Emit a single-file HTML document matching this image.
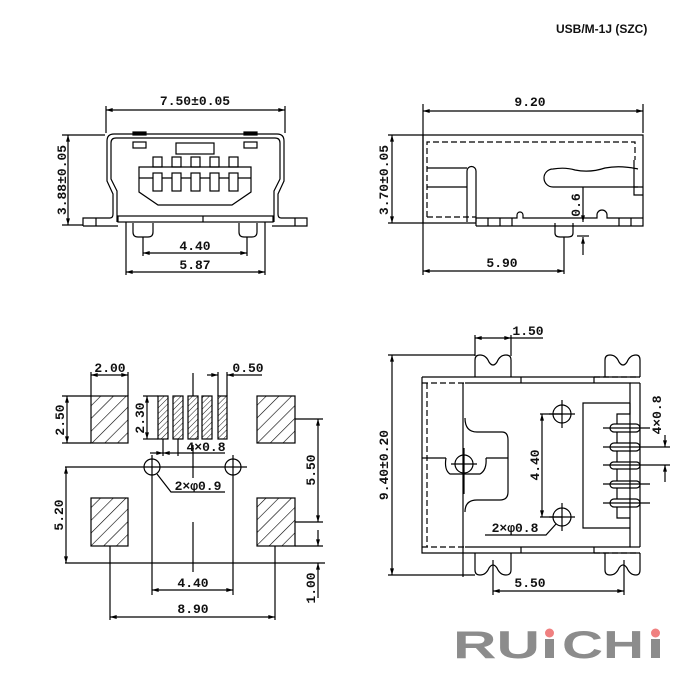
<!DOCTYPE html>
<html><head><meta charset="utf-8"><style>
html,body{margin:0;padding:0;background:#fff;}
svg{display:block}
.d{font-family:"Liberation Mono",monospace;font-weight:bold;font-size:13px;fill:#111}
</style></head><body>
<svg width="700" height="700" viewBox="0 0 700 700" xmlns="http://www.w3.org/2000/svg">
<defs>
<marker id="a" viewBox="0 0 10 6" refX="10" refY="3" markerWidth="8" markerHeight="4" orient="auto-start-reverse" markerUnits="userSpaceOnUse"><path d="M0,0 L10,3 L0,6z" fill="#000"/></marker>
<pattern id="h" width="9" height="9" patternUnits="userSpaceOnUse" patternTransform="rotate(45)"><line x1="0" y1="0" x2="0" y2="9" stroke="#000" stroke-width="1.2"/></pattern>
<pattern id="h2" width="4" height="4" patternUnits="userSpaceOnUse" patternTransform="rotate(45)"><line x1="0" y1="0" x2="0" y2="4" stroke="#000" stroke-width="0.9"/></pattern>
</defs>
<text x="556" y="33" font-family="Liberation Sans,sans-serif" font-size="12" font-weight="bold" fill="#111">USB/M-1J (SZC)</text>

<g fill="none" stroke="#000" stroke-width="1.2">
<!-- ===== Top-left view ===== -->
<line x1="106" y1="106" x2="106" y2="133"/><line x1="285" y1="106" x2="285" y2="133"/>
<line x1="106" y1="110" x2="285" y2="110" marker-start="url(#a)" marker-end="url(#a)"/>
<line x1="62" y1="135" x2="105" y2="135"/><line x1="62" y1="225" x2="83" y2="225"/>
<line x1="68" y1="135" x2="68" y2="225" marker-start="url(#a)" marker-end="url(#a)"/>
<path d="M83,226 V218 H110 Q113,218 113,214 V194 L107,181 V141 Q107,134 114,134 H277 Q284,134 284,141 V181 L278,194 V214 Q278,218 281,218 H307 V226 H278 M83,226 H118 M272,226 H307" />
<line x1="96" y1="218" x2="96" y2="226"/><line x1="295" y1="218" x2="295" y2="226"/>
<path d="M117,222 V191 L111,179 V143 Q111,138 116,138 H275 Q280,138 280,143 V179 L274,191 V222"/>
<rect x="118" y="216" width="155" height="6"/><line x1="203" y1="216" x2="203" y2="222"/>
<rect x="133" y="142" width="13" height="6"/><rect x="244" y="142" width="13" height="6"/>
<rect x="133" y="132" width="13" height="3" fill="#000"/><rect x="244" y="132" width="13" height="3" fill="#000"/>
<rect x="176" y="143" width="38" height="11"/>
<path d="M139,167 H251 V192 L232,205 H158 L139,192 Z"/><line x1="139" y1="178" x2="251" y2="178"/>
<g>
<rect x="153" y="157" width="9" height="10"/><rect x="172" y="157" width="9" height="10"/><rect x="191" y="157" width="9" height="10"/><rect x="210" y="157" width="9" height="10"/><rect x="229" y="157" width="9" height="10"/>
<rect x="153" y="173" width="9" height="18" fill="#fff"/><rect x="172" y="173" width="9" height="18" fill="#fff"/><rect x="191" y="173" width="9" height="18" fill="#fff"/><rect x="210" y="173" width="9" height="18" fill="#fff"/><rect x="229" y="173" width="9" height="18" fill="#fff"/>
</g>
<path d="M133,223 V232 Q133,237 138,237 H148 Q153,237 153,232 V223"/>
<path d="M239,223 V232 Q239,237 244,237 H252 Q257,237 257,232 V223"/>
<line x1="143" y1="237" x2="143" y2="256"/><line x1="247" y1="237" x2="247" y2="256"/>
<line x1="143" y1="253" x2="247" y2="253" marker-start="url(#a)" marker-end="url(#a)"/>
<line x1="126" y1="222" x2="126" y2="275"/><line x1="265" y1="222" x2="265" y2="275"/>
<line x1="126" y1="272" x2="265" y2="272" marker-start="url(#a)" marker-end="url(#a)"/>

<!-- ===== Top-right view ===== -->
<line x1="423" y1="104" x2="423" y2="275"/><line x1="643" y1="104" x2="643" y2="133"/>
<line x1="423" y1="111" x2="643" y2="111" marker-start="url(#a)" marker-end="url(#a)"/>
<line x1="388" y1="135" x2="423" y2="135"/><line x1="388" y1="223" x2="423" y2="223"/>
<line x1="392" y1="135" x2="392" y2="223" marker-start="url(#a)" marker-end="url(#a)"/>
<path d="M423,135 H643 V218 M423,135 V223 H476 M476,226 H643 V218"/>
<path d="M476,218 H517 V215 A3,3 0 0 1 523,215 V218 H597 V215 A5,5 0 0 1 607,215 V218 H643"/>
<line x1="476" y1="218" x2="476" y2="226"/><line x1="488" y1="218" x2="488" y2="226"/><line x1="500" y1="218" x2="500" y2="226"/><line x1="512" y1="218" x2="512" y2="226"/>
<line x1="619" y1="218" x2="619" y2="226"/><line x1="631" y1="218" x2="631" y2="226"/>
<path d="M427,217 V142 H635 V160" stroke-dasharray="6,3"/><path d="M427,217 H476" stroke-dasharray="6,3"/>
<path d="M634,160 V195 H643 M634,187 H643"/>
<path d="M427,168 H467 M427,187 H467 M467,222 V171 A4.5,4.5 0 0 1 476,171 V222"/>
<path d="M638,187 H553 A9,9 0 0 1 553,169 Q565,167 575,170 Q590,173 605,168 Q620,165 638,169"/>
<path d="M555,223 V233 Q555,237 560,237 H568 Q573,237 573,233 V223"/>
<line x1="583" y1="187" x2="583" y2="222" marker-end="url(#a)"/>
<line x1="583" y1="255" x2="583" y2="237" marker-end="url(#a)"/>
<line x1="577" y1="236" x2="589" y2="236"/>
<line x1="564" y1="237" x2="564" y2="274"/>
<line x1="423" y1="271" x2="564" y2="271" marker-start="url(#a)" marker-end="url(#a)"/>

<!-- ===== Bottom-left view ===== -->
<rect x="91" y="396" width="37" height="47" fill="url(#h)"/>
<rect x="257" y="396" width="38" height="47" fill="url(#h)"/>
<rect x="91" y="498" width="37" height="48" fill="url(#h)"/>
<rect x="257" y="498" width="38" height="48" fill="url(#h)"/>
<rect x="158" y="396" width="10" height="43" fill="url(#h2)"/>
<rect x="173" y="396" width="10" height="43" fill="url(#h2)"/>
<rect x="188" y="396" width="10" height="43" fill="url(#h2)"/>
<rect x="202" y="396" width="10" height="43" fill="url(#h2)"/>
<rect x="218" y="396" width="9" height="43" fill="url(#h2)"/>
<line x1="91" y1="372" x2="91" y2="396"/><line x1="128" y1="372" x2="128" y2="396"/>
<line x1="91" y1="375" x2="128" y2="375" marker-start="url(#a)" marker-end="url(#a)"/>
<line x1="62" y1="396" x2="91" y2="396"/><line x1="62" y1="443" x2="91" y2="443"/>
<line x1="67" y1="396" x2="67" y2="443" marker-start="url(#a)" marker-end="url(#a)"/>
<line x1="143" y1="396" x2="158" y2="396"/><line x1="143" y1="439" x2="158" y2="439"/>
<line x1="147" y1="396" x2="147" y2="439" marker-start="url(#a)" marker-end="url(#a)"/>
<line x1="218" y1="372" x2="218" y2="396"/><line x1="227" y1="372" x2="227" y2="396"/>
<line x1="207" y1="375" x2="218" y2="375" marker-end="url(#a)"/>
<line x1="262" y1="375" x2="227" y2="375" marker-end="url(#a)"/>
<line x1="193" y1="373" x2="193" y2="396"/><line x1="193" y1="445" x2="193" y2="478"/><line x1="193" y1="522" x2="193" y2="572"/>
<line x1="163" y1="439" x2="163" y2="456"/><line x1="178" y1="439" x2="178" y2="456"/>
<line x1="150" y1="453" x2="163" y2="453" marker-end="url(#a)"/>
<line x1="225" y1="453" x2="178" y2="453"/>
<line x1="163" y1="453" x2="178" y2="453" marker-start="url(#a)"/>
<circle cx="152" cy="467" r="8"/><circle cx="233" cy="467" r="8"/>
<line x1="65" y1="467" x2="247" y2="467"/>
<line x1="152" y1="455" x2="152" y2="595"/><line x1="233" y1="455" x2="233" y2="595"/>
<path d="M157,474 L171,492 H225"/>
<line x1="65" y1="563" x2="325" y2="563"/>
<line x1="66" y1="467" x2="66" y2="563" marker-start="url(#a)" marker-end="url(#a)"/>
<line x1="152" y1="590" x2="233" y2="590" marker-start="url(#a)" marker-end="url(#a)"/>
<line x1="110" y1="546" x2="110" y2="620"/><line x1="275" y1="546" x2="275" y2="620"/>
<line x1="110" y1="617" x2="275" y2="617" marker-start="url(#a)" marker-end="url(#a)"/>
<line x1="295" y1="419" x2="323" y2="419"/><line x1="295" y1="522" x2="323" y2="522"/>
<line x1="318" y1="419" x2="318" y2="522" marker-start="url(#a)" marker-end="url(#a)"/>
<line x1="295" y1="546" x2="323" y2="546"/>
<line x1="318" y1="530" x2="318" y2="546" marker-end="url(#a)"/>
<line x1="318" y1="598" x2="318" y2="563" marker-end="url(#a)"/>

<!-- ===== Bottom-right view ===== -->
<line x1="475" y1="335" x2="475" y2="356"/><line x1="511" y1="335" x2="511" y2="356"/>
<line x1="475" y1="338" x2="511" y2="338" marker-start="url(#a)" marker-end="url(#a)"/>
<line x1="511" y1="338" x2="543" y2="338"/>
<line x1="388" y1="355" x2="475" y2="355"/><line x1="388" y1="575" x2="475" y2="575"/>
<line x1="392" y1="355" x2="392" y2="575" marker-start="url(#a)" marker-end="url(#a)"/>
<path d="M422,377 H640 M422,377 V553 H640 M465,383 H630 V547 H465"/>
<line x1="630" y1="383" x2="640" y2="383"/><line x1="630" y1="547" x2="640" y2="547"/>
<line x1="640" y1="383" x2="640" y2="547"/>
<line x1="521" y1="377" x2="521" y2="383"/><line x1="594" y1="377" x2="594" y2="383"/>
<line x1="521" y1="547" x2="521" y2="553"/><line x1="594" y1="547" x2="594" y2="553"/>
<path d="M427,383 V547 M422,383 H465 M422,547 H465" stroke-dasharray="6,3"/>
<path d="M594,377 H640 M594,553 H640" stroke-dasharray="6,3"/>
<line x1="463" y1="383" x2="463" y2="577"/>
<path d="M475,377 V360 Q475,355 480,355 Q486,355 489,362 Q493,368 497,362 Q500,355 506,355 Q511,355 511,360 V377"/>
<path d="M605,377 V360 Q605,355 610,355 Q616,355 619,362 Q623,368 627,362 Q630,355 636,355 Q640,355 640,360 V377"/>
<path d="M475,553 V570 Q475,575 480,575 Q486,575 489,568 Q493,562 497,568 Q500,575 506,575 Q511,575 511,570 V553"/>
<path d="M605,553 V570 Q605,575 610,575 Q616,575 619,568 Q623,562 627,568 Q630,575 636,575 Q640,575 640,570 V553"/>
<path d="M465,418 Q465,432 477,432 H502 Q508,432 508,440 V492 Q508,500 500,500 H477 Q465,500 465,512"/>
<line x1="422" y1="458" x2="446" y2="458"/><line x1="486" y1="458" x2="508" y2="458"/>
<path d="M446,458 Q444,470 450,474 H480 Q487,470 486,458"/>
<circle cx="464" cy="464" r="9"/>
<line x1="451" y1="464" x2="477" y2="464"/><line x1="464" y1="448" x2="464" y2="494"/>
<circle cx="562" cy="414" r="9"/><line x1="549" y1="414" x2="575" y2="414"/><line x1="562" y1="400" x2="562" y2="428"/>
<circle cx="562" cy="517" r="9"/><line x1="549" y1="517" x2="575" y2="517"/><line x1="562" y1="503" x2="562" y2="531"/>
<line x1="540" y1="414" x2="562" y2="414"/><line x1="540" y1="517" x2="562" y2="517"/>
<line x1="542" y1="414" x2="542" y2="517" marker-start="url(#a)" marker-end="url(#a)"/>
<path d="M485,535 H546 L556,524"/>
<path d="M630,403 H583 V528 H630"/>
<path d="M630,403 V414 H617 V424 M617,432 V443 M617,451 V462 M617,469 V481 M617,488 V499 M617,507 V518 H630"/>
<rect x="610" y="424" width="30" height="8" rx="4"/><rect x="610" y="443" width="30" height="8" rx="4"/><rect x="610" y="462" width="30" height="7" rx="3.5"/><rect x="610" y="481" width="30" height="7" rx="3.5"/><rect x="610" y="499" width="30" height="8" rx="4"/>
<line x1="603" y1="428" x2="650" y2="428"/><line x1="603" y1="447" x2="670" y2="447"/><line x1="603" y1="465" x2="670" y2="465"/><line x1="603" y1="484" x2="650" y2="484"/><line x1="603" y1="503" x2="650" y2="503"/>
<line x1="665" y1="435" x2="665" y2="447" marker-end="url(#a)"/>
<line x1="665" y1="482" x2="665" y2="465" marker-end="url(#a)"/>
<line x1="493" y1="560" x2="493" y2="595"/><line x1="624" y1="560" x2="624" y2="595"/>
<line x1="493" y1="591" x2="624" y2="591" marker-start="url(#a)" marker-end="url(#a)"/>
</g>

<g class="d">
<text x="195" y="105" text-anchor="middle">7.50±0.05</text>
<text x="66" y="180" text-anchor="middle" transform="rotate(-90 66 180)">3.88±0.05</text>
<text x="195" y="250" text-anchor="middle">4.40</text>
<text x="195" y="269" text-anchor="middle">5.87</text>
<text x="530" y="106" text-anchor="middle">9.20</text>
<text x="388" y="180" text-anchor="middle" transform="rotate(-90 388 180)">3.70±0.05</text>
<text x="580" y="205" text-anchor="middle" transform="rotate(-90 580 205)">0.6</text>
<text x="502" y="267" text-anchor="middle">5.90</text>
<text x="110" y="372" text-anchor="middle">2.00</text>
<text x="64" y="420" text-anchor="middle" transform="rotate(-90 64 420)">2.50</text>
<text x="144" y="418" text-anchor="middle" transform="rotate(-90 144 418)">2.30</text>
<text x="248" y="372" text-anchor="middle">0.50</text>
<text x="206" y="451" text-anchor="middle">4×0.8</text>
<text x="198" y="490" text-anchor="middle">2×φ0.9</text>
<text x="63" y="515" text-anchor="middle" transform="rotate(-90 63 515)">5.20</text>
<text x="193" y="587" text-anchor="middle">4.40</text>
<text x="193" y="613" text-anchor="middle">8.90</text>
<text x="315" y="470" text-anchor="middle" transform="rotate(-90 315 470)">5.50</text>
<text x="315" y="588" text-anchor="middle" transform="rotate(-90 315 588)">1.00</text>
<text x="528" y="335" text-anchor="middle">1.50</text>
<text x="388" y="465" text-anchor="middle" transform="rotate(-90 388 465)">9.40±0.20</text>
<text x="539" y="465" text-anchor="middle" transform="rotate(-90 539 465)">4.40</text>
<text x="515" y="532" text-anchor="middle">2×φ0.8</text>
<text x="661" y="415" text-anchor="middle" transform="rotate(-90 661 415)">4×0.8</text>
<text x="530" y="587" text-anchor="middle">5.50</text>
</g>

<g font-family="Liberation Sans,sans-serif" font-weight="bold" font-size="39" fill="#8c8c8c">
<text x="453" y="658" textLength="87" lengthAdjust="spacingAndGlyphs">RU</text>
<text x="562" y="658" textLength="82" lengthAdjust="spacingAndGlyphs">CH</text>
</g>
<rect x="545" y="639" width="9" height="19" fill="#8c8c8c"/>
<rect x="651" y="639" width="9" height="19" fill="#8c8c8c"/>
<circle cx="549.5" cy="633" r="4.5" fill="#f08080"/>
<circle cx="655.5" cy="633" r="4.5" fill="#f08080"/>
</svg>
</body></html>
